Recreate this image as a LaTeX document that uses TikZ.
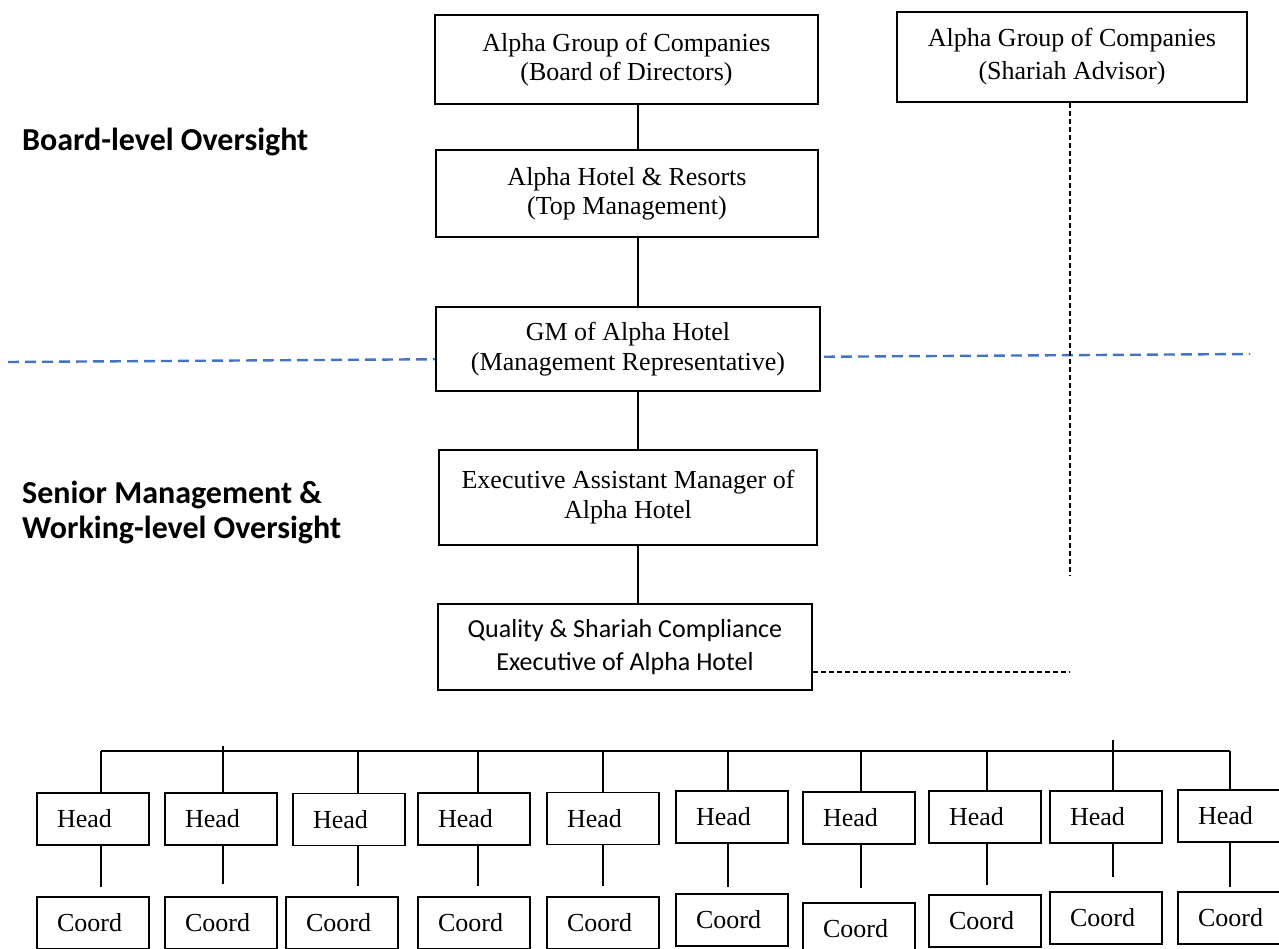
\documentclass[tikz,border=0pt]{standalone}
\usepackage{fontspec}
\setmainfont{Liberation Serif}
\newfontfamily\calfont{Carlito}
\definecolor{bluedash}{HTML}{4472C4}
\begin{document}
\begin{tikzpicture}[x=1pt,y=-1pt,
  box/.style={draw, line width=1.2pt, fill=white, align=center, inner sep=0pt,
    font=\fontsize{26}{29}\selectfont},
  small/.style={draw, line width=1.2pt, fill=white, minimum width=112pt, minimum height=52pt,
    text width=72pt, inner xsep=20pt, inner ysep=0pt, align=left,
    font=\fontsize{26}{29}\selectfont},
  conn/.style={line width=2pt},
  busline/.style={line width=2.6pt},
  dashblack/.style={line width=1.8pt, dash pattern=on 5pt off 3pt},
  bluedashed/.style={line width=2.4pt, color=bluedash, dash pattern=on 11pt off 6pt},
  lab/.style={inner sep=0pt, align=left, font=\calfont\bfseries\fontsize{32}{35}\selectfont}]
\useasboundingbox (0,0) rectangle (1279,949);

% blue separator (behind GM box)
\coordinate (bl) at (8,362);
\coordinate (br) at (1250,354);
\draw[bluedashed] (bl) -- (br);

% main column
\node[box, minimum width=383pt, minimum height=89pt] (bod) at (626.5,59.5)
  {Alpha Group of Companies\\(Board of Directors)};
\node[box, minimum width=382pt, minimum height=87pt] (top) at (627,193.5)
  {Alpha Hotel \& Resorts\\(Top Management)};
\node[box, minimum width=384pt, minimum height=84pt, font=\fontsize{26}{30}\selectfont] (gm) at (628,349)
  {GM of Alpha Hotel\\(Management Representative)};
\node[box, minimum width=378pt, minimum height=95pt, font=\fontsize{26}{30}\selectfont] (eam) at (628,497.5)
  {Executive Assistant Manager of\\Alpha Hotel};
\node[box, minimum width=374pt, minimum height=86pt, font=\calfont\fontsize{26}{33}\selectfont] (qsc) at (625,647)
  {Quality \& Shariah Compliance\\Executive of Alpha Hotel};
\node[box, minimum width=350pt, minimum height=90pt, font=\fontsize{26}{33}\selectfont] (sa) at (1072,57)
  {Alpha Group of Companies\\(Shariah Advisor)};

\coordinate (sp) at (638,0);
\draw[conn] (bod.south -| sp) -- (top.north -| sp);
\draw[conn] (top.south -| sp) -- (gm.north -| sp);
\draw[conn] (gm.south -| sp) -- (eam.north -| sp);
\draw[conn] (eam.south -| sp) -- (qsc.north -| sp);

% dashed reporting line to Shariah Advisor
\coordinate (sj) at (1070,672);
\coordinate (sv) at (1070,575);
\draw[dashblack] (sa.south -| sj) -- (sv);
\draw[dashblack] (qsc.east |- sj) -- (sj);

% side labels
\node[lab, anchor=west] (l1) at (22,142) {Board-level Oversight};
\node[lab, anchor=west] (l2) at (22,512) {Senior Management \&\\Working-level Oversight};

% bottom row
\foreach \i/\dx/\hx/\hy/\cx/\cy/\ly in {
  1/101/93/819/93/923/887,
  2/223/221/819/221/923/884,
  3/358/349/819.5/342/923/886,
  4/478/474/819/474/923/886,
  5/603/603/818.5/603/923/886,
  6/728/732/817/732/920/887,
  7/861/859/818/859/929/888,
  8/987/985/817/985/921/885,
  9/1113/1106/817/1106/918/877,
  10/1230/1234/816/1234/918/887}{
  \node[small] (h\i) at (\hx,\hy) {Head};
  \node[small] (c\i) at (\cx,\cy) {Coord};
  \coordinate (d\i) at (\dx,751);
  \coordinate (e\i) at (\dx,\ly);
  \draw[conn] (d\i) -- (h\i.north -| d\i);
  \draw[conn] (h\i.south -| d\i) -- (e\i);
}
\draw[busline] (d1) -- (d10);
\coordinate (s2) at (223,746);
\coordinate (s9) at (1113,740);
\draw[conn] (s2) -- (d2);
\draw[conn] (s9) -- (d9);
\end{tikzpicture}
\end{document}
